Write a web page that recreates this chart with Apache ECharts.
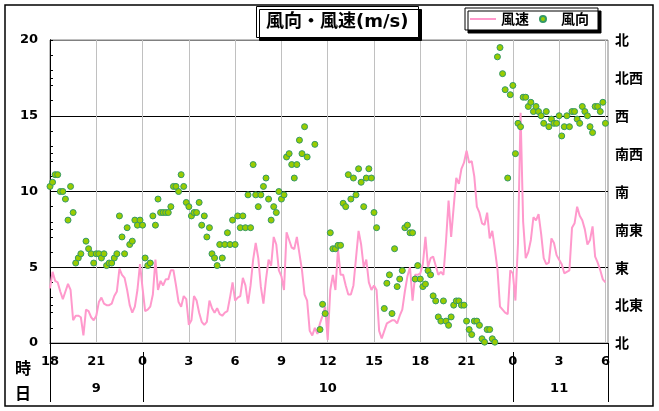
<!DOCTYPE html>
<html><head><meta charset="utf-8">
<script src="https://cdn.jsdelivr.net/npm/echarts@6/dist/echarts.min.js"></script>
<style>html,body{margin:0;padding:0;background:#fff}#c{width:659px;height:411px}</style>
</head><body><div id="c"></div>
<script>
// ---- data ----
const startHour = 18;          // first sample: 18:00 on the 9th
const stepHours = 1 / 6;       // 10-minute samples
const spanHours = 36 + 1 / 6;  // x range of the plot
const hourStep = 3;
const days = ['9', '10', '11'];
const dayCenters = [3, 18, 33];     // hours from start
const dayBoundaries = [6, 30];      // hours from start (midnight)
const dirLabels = ['北', '北東', '東', '南東', '南', '南西', '西', '北西', '北'];

// wind speed (m/s), every 10 minutes
const speed = [
  3.6,4.7,4.1,4.0,3.4,2.9,3.4,3.9,3.5,1.5,1.8,1.8,1.7,0.5,2.2,2.1,1.7,1.5,
  1.8,2.7,3.0,2.6,2.5,2.5,2.6,3.1,3.4,4.9,4.5,4.3,3.5,2.5,2.0,2.4,3.5,5.2,
  3.6,2.1,2.2,2.4,3.2,5.5,3.5,4.1,3.8,4.2,4.2,4.8,4.8,3.8,2.7,2.4,3.1,2.9,
  1.2,1.5,3.1,2.8,2.0,1.4,1.2,1.4,2.8,2.3,2.0,2.3,1.9,1.8,2.0,2.1,3.0,4.0,
  2.8,3.0,3.1,4.3,3.8,2.6,3.8,5.5,6.6,5.6,3.7,2.6,4.2,5.5,5.1,7.0,6.5,4.8,
  4.4,3.5,7.3,6.8,6.3,6.2,7.0,5.9,4.8,3.2,2.8,0.8,0.5,1.0,0.6,1.3,1.8,2.4,
  0.2,3.5,4.5,3.5,6.2,4.5,4.5,3.8,3.2,3.2,3.8,5.6,7.4,6.5,5.0,5.5,4.0,3.5,
  3.8,3.5,0.8,0.3,0.8,1.3,1.4,1.5,1.5,1.3,1.8,2.2,3.4,4.4,5.0,2.8,4.5,4.5,
  4.6,5.2,7.0,5.0,5.6,5.7,5.1,4.5,4.7,4.5,6.7,9.4,7.0,9.0,10.9,10.5,11.5,11.9,
  12.7,11.9,12.0,11.0,9.0,8.6,7.9,7.8,8.6,6.9,7.4,6.2,4.9,2.4,2.2,2.0,1.9,4.8,
  4.6,2.8,6.6,15.2,8.0,5.6,6.0,6.8,8.3,8.1,8.5,7.2,5.6,5.2,5.3,6.9,6.6,5.8,
  5.5,5.2,4.6,4.7,4.8,7.6,7.9,9.0,8.4,8.1,7.5,6.5,6.8,7.7,5.7,5.3,4.8,4.2,4.0
];

// wind direction (degrees, 0 = north, clockwise), every 10 minutes
const direction = [
  186,191,200,200,180,180,171,146,186,155,95,101,106,null,121,112,106,95,
  106,106,101,106,92,95,95,101,106,151,126,106,137,117,121,146,140,146,
  140,101,92,95,151,140,171,155,155,155,155,162,186,186,180,200,186,167,
  162,151,155,155,167,140,151,126,137,106,101,92,117,101,117,131,117,146,
  117,151,137,151,137,176,137,212,176,162,176,186,196,171,146,162,155,180,
  171,176,221,225,212,196,212,241,225,257,221,null,null,236,null,16,46,35,
  null,131,112,112,116,116,166,162,200,171,196,176,207,191,162,196,207,196,
  155,137,null,null,41,71,81,35,112,67,76,86,137,140,131,131,76,92,
  76,67,70,86,81,56,50,31,26,50,26,21,31,45,50,50,45,45,
  26,16,10,26,26,21,5,1,16,16,5,1,340,351,320,301,196,295,
  306,225,261,257,292,292,281,286,275,281,275,270,261,275,257,266,261,261,
  270,246,257,270,257,275,275,266,261,281,275,270,257,250,281,281,275,286,261
];

// ---- chart ----
const FONT = "'DejaVu Sans','Noto Sans CJK JP',sans-serif";
const CJK = "'Noto Sans CJK JP','Noto Sans',sans-serif";
const speedData = speed.map((v, i) => [i * stepHours, v]);
const dirData = [];
direction.forEach((d, i) => { if (d !== null) dirData.push([i * stepHours, d]); });

function isStep(v, s) { return Math.abs(v / s - Math.round(v / s)) < 1e-6; }

const chart = echarts.init(document.getElementById('c'), null, { renderer: 'canvas' });
const option = {
  animation: false,
  backgroundColor: '#fff',
  title: {
    text: '風向・風速(m/s)',
    left: 256, top: 6,
    padding: [7, 10, 7, 10],
    backgroundColor: '#fff', borderColor: '#000', borderWidth: 1,
    shadowColor: '#000', shadowOffsetX: 3, shadowOffsetY: 3, shadowBlur: 0.01,
    textStyle: { fontFamily: FONT, fontWeight: 'bold', fontSize: 18, color: '#000' }
  },
  legend: {
    left: 465, top: 8,
    padding: [4, 9, 4, 5],
    itemGap: 10, itemWidth: 26, itemHeight: 6,
    backgroundColor: '#fff', borderColor: '#000', borderWidth: 1,
    shadowColor: '#000', shadowOffsetX: 3, shadowOffsetY: 3, shadowBlur: 0.01,
    textStyle: { fontFamily: CJK, fontWeight: 'bold', fontSize: 14, color: '#000' },
    data: [{ name: '風速', icon: 'path://M0,0H26V2H0Z' }, { name: '風向', icon: 'circle' }]
  },
  grid: { left: 50, top: 40, width: 558, height: 303, containLabel: false,
          show: true, borderColor: '#808080', borderWidth: 1, backgroundColor: '#fff' },
  xAxis: [{
    type: 'value', min: 0, max: spanHours, interval: hourStep,
    axisLine: { lineStyle: { color: '#000', width: 1 } },
    axisTick: { show: false },
    splitLine: { show: true, lineStyle: { color: '#c0c0c0', width: 1 } },
    axisLabel: {
      margin: 12, color: '#000', fontFamily: FONT, fontWeight: 'bold', fontSize: 13,
      showMaxLabel: false,
      formatter: v => isStep(v, hourStep) ? String((startHour + Math.round(v)) % 24) : ''
    }
  }, {
    type: 'value', min: 0, max: spanHours, interval: hourStep,
    position: 'bottom', offset: 27,
    axisLine: { show: false }, axisTick: { show: false }, splitLine: { show: false },
    axisLabel: {
      margin: 12, color: '#000', fontFamily: FONT, fontWeight: 'bold', fontSize: 13,
      showMaxLabel: false, showMinLabel: false,
      formatter: v => {
        const k = dayCenters.findIndex(c => Math.abs(c - v) < 1e-6);
        return k >= 0 ? days[k] : '';
      }
    }
  }],
  yAxis: [{
    type: 'value', min: 0, max: 20, interval: 5, position: 'left',
    axisLine: { show: true, lineStyle: { color: '#000', width: 1 } },
    axisTick: { show: true, inside: true, length: 3, lineStyle: { color: '#000' } },
    minorTick: { show: true, splitNumber: 5, length: 3, lineStyle: { color: '#000' } },
    splitLine: { show: true, lineStyle: { color: ['#000', '#000', '#000', '#000', '#808080'], width: 1 } },
    axisLabel: { margin: 12, color: '#000', fontFamily: FONT, fontWeight: 'bold', fontSize: 13 }
  }, {
    type: 'value', min: 0, max: 360, interval: 45, position: 'right',
    axisLine: { show: true, lineStyle: { color: '#000', width: 1 } },
    axisTick: { show: true, inside: false, length: 3, lineStyle: { color: '#000' } },
    splitLine: { show: false },
    axisLabel: {
      margin: 7, color: '#000', fontFamily: CJK, fontWeight: 'bold', fontSize: 14,
      formatter: v => dirLabels[Math.round(v / 45)]
    }
  }],
  series: [{
    name: '風速', type: 'line', xAxisIndex: 0, yAxisIndex: 0,
    data: speedData, showSymbol: false, symbol: 'none',
    lineStyle: { color: '#ff99cc', width: 2 }, itemStyle: { color: '#ff99cc' },
    z: 2
  }, {
    name: '風向', type: 'scatter', xAxisIndex: 0, yAxisIndex: 1,
    data: dirData, symbol: 'circle', symbolSize: 6,
    itemStyle: { color: '#99cc00', borderColor: '#339966', borderWidth: 1, opacity: 1 },
    z: 3
  }]
};
chart.setOption(option);

// table lines below the plot, placed through the axis scales
const yBase = chart.convertToPixel({ yAxisIndex: 0 }, 0);
const yEnd = 402;
const lines = [];
[0, spanHours].forEach(t => {
  const x = Math.round(chart.convertToPixel({ xAxisIndex: 0 }, t)) + 0.5;
  lines.push({ type: 'line', shape: { x1: x, y1: yBase, x2: x, y2: yEnd }, style: { stroke: '#000', lineWidth: 1 }, z: 10 });
});
dayBoundaries.forEach(t => {
  const x = Math.round(chart.convertToPixel({ xAxisIndex: 0 }, t)) + 0.5;
  lines.push({ type: 'line', shape: { x1: x, y1: yBase + 9, x2: x, y2: yEnd }, style: { stroke: '#000', lineWidth: 1 }, z: 10 });
});
chart.setOption({
  graphic: [
    { type: 'rect', shape: { x: 5, y: 5, width: 648, height: 401 }, style: { fill: null, stroke: '#000', lineWidth: 1.5 }, z: 100, silent: true },
    { type: 'text', x: 23, y: 368, style: { text: '時', fontFamily: CJK, fontWeight: 'bold', fontSize: 16, fill: '#000', align: 'center', verticalAlign: 'middle' }, z: 10 },
    { type: 'text', x: 23, y: 393, style: { text: '日', fontFamily: CJK, fontWeight: 'bold', fontSize: 16, fill: '#000', align: 'center', verticalAlign: 'middle' }, z: 10 }
  ].concat(lines)
});
</script></body></html>
